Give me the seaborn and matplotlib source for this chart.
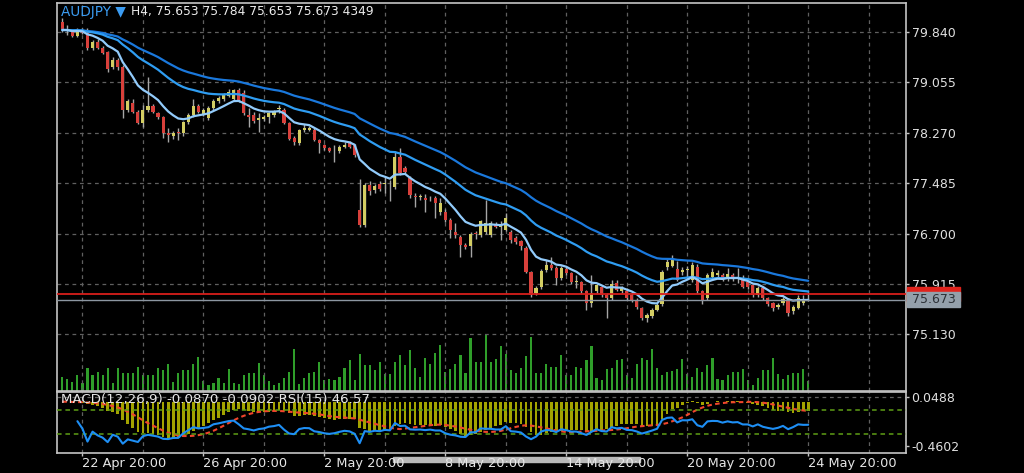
import numpy as np
import pandas as pd
import seaborn as sns
import matplotlib.pyplot as plt
from matplotlib.patches import Rectangle

# AUDJPY H4 candles (oldest first)
opens = [80.00, 79.87, 79.86, 79.78, 79.86, 79.82, 79.59, 79.69, 79.59, 79.52,
         79.30, 79.40, 79.30, 78.63, 78.74, 78.60, 78.42, 78.63, 78.68, 78.58,
         78.51, 78.27, 78.22, 78.28, 78.27, 78.43, 78.55, 78.68, 78.56, 78.50,
         78.65, 78.77, 78.79, 78.84, 78.80, 78.93, 78.89, 78.55, 78.55, 78.47,
         78.48, 78.52, 78.55, 78.64, 78.63, 78.42, 78.19, 78.11, 78.31, 78.31,
         78.32, 78.16, 78.08, 78.03, 78.01, 77.99, 78.05, 78.11, 78.08, 77.06,
         76.83, 77.46, 77.38, 77.47, 77.47, 77.42, 77.43, 77.90, 77.72, 77.56,
         77.28, 77.27, 77.26, 77.25, 77.25, 77.04, 77.04, 76.91, 76.73, 76.65,
         76.53, 76.50, 76.71, 76.68, 76.73, 76.68, 76.85, 76.81, 76.76, 76.73,
         76.63, 76.58, 76.47, 76.10, 75.77, 75.87, 76.13, 76.21, 76.16, 76.01,
         76.15, 76.08, 75.95, 75.95, 75.80, 75.62, 75.80, 75.87, 75.75, 75.70,
         75.93, 75.80, 75.81, 75.74, 75.67, 75.54, 75.39, 75.41, 75.51, 75.60,
         76.18, 76.20, 76.15, 76.10, 76.13, 75.98, 76.18, 75.80, 75.69, 76.03,
         76.05, 76.06, 76.01, 76.06, 76.02, 76.00, 75.94, 75.90, 75.74, 75.85,
         75.69, 75.62, 75.55, 75.62, 75.67, 75.49, 75.54, 75.62, 75.653]
highs = [80.05, 79.95, 79.89, 79.90, 79.90, 79.90, 79.72, 79.73, 79.62, 79.54,
         79.45, 79.43, 79.32, 78.80, 78.80, 78.62, 78.70, 79.14, 78.71, 78.60,
         78.53, 78.35, 78.30, 78.35, 78.45, 78.58, 78.79, 78.71, 78.66, 78.68,
         78.79, 78.84, 78.89, 78.95, 78.95, 78.96, 78.93, 78.65, 78.60, 78.58,
         78.55, 78.60, 78.63, 78.70, 78.66, 78.44, 78.22, 78.33, 78.40, 78.37,
         78.35, 78.18, 78.10, 78.05, 78.08, 78.08, 78.12, 78.14, 78.10, 77.55,
         77.49, 77.52, 77.48, 77.52, 77.59, 77.54, 77.99, 78.03, 77.75, 77.60,
         77.33, 77.32, 77.32, 77.29, 77.28, 77.26, 77.08, 76.94, 76.86, 76.68,
         76.55, 76.72, 76.74, 76.91, 77.22, 76.90, 76.88, 76.89, 77.02, 76.76,
         76.66, 76.60, 76.50, 76.12, 75.88, 76.15, 76.29, 76.34, 76.19, 76.19,
         76.18, 76.10, 76.06, 75.97, 75.82, 76.06, 75.92, 75.90, 75.77, 75.98,
         75.98, 75.88, 75.86, 75.77, 75.69, 75.56, 75.47, 75.54, 75.62, 76.14,
         76.30, 76.37, 76.28, 76.18, 76.19, 76.26, 76.22, 75.82, 76.09, 76.16,
         76.13, 76.08, 76.16, 76.09, 76.16, 76.06, 75.96, 75.92, 75.88, 75.88,
         75.72, 75.64, 75.62, 75.71, 75.70, 75.59, 75.75, 75.75, 75.784]
lows = [79.84, 79.79, 79.76, 79.76, 79.80, 79.56, 79.56, 79.57, 79.49, 79.22,
        79.26, 79.25, 78.50, 78.60, 78.57, 78.40, 78.36, 78.60, 78.57, 78.48,
        78.19, 78.12, 78.18, 78.16, 78.22, 78.40, 78.52, 78.57, 78.53, 78.47,
        78.62, 78.74, 78.76, 78.82, 78.77, 78.75, 78.55, 78.36, 78.42, 78.28,
        78.45, 78.42, 78.52, 78.57, 78.40, 78.15, 78.08, 78.08, 78.28, 78.29,
        78.14, 77.95, 78.00, 77.97, 77.82, 77.96, 78.03, 78.03, 77.90, 76.80,
        76.80, 77.30, 77.34, 77.36, 77.33, 77.20, 77.40, 77.61, 77.63, 77.25,
        77.12, 77.22, 77.04, 77.20, 76.94, 76.99, 76.88, 76.63, 76.63, 76.34,
        76.46, 76.34, 76.62, 76.65, 76.70, 76.65, 76.78, 76.60, 76.74, 76.55,
        76.54, 76.45, 76.08, 75.72, 75.74, 75.84, 76.10, 76.14, 75.90, 75.98,
        76.05, 75.92, 75.85, 75.78, 75.51, 75.56, 75.77, 75.72, 75.39, 75.66,
        75.80, 75.78, 75.67, 75.64, 75.53, 75.36, 75.32, 75.39, 75.49, 75.57,
        76.14, 76.18, 75.96, 76.06, 76.00, 75.95, 75.78, 75.60, 75.66, 75.99,
        76.02, 75.96, 75.96, 75.97, 75.93, 75.85, 75.84, 75.72, 75.71, 75.66,
        75.58, 75.49, 75.52, 75.59, 75.41, 75.45, 75.52, 75.59, 75.653]
closes = [79.87, 79.86, 79.78, 79.87, 79.82, 79.59, 79.69, 79.59, 79.51, 79.27,
          79.40, 79.30, 78.63, 78.76, 78.60, 78.42, 78.63, 78.68, 78.60, 78.51,
          78.26, 78.23, 78.27, 78.27, 78.43, 78.55, 78.68, 78.60, 78.62, 78.65,
          78.77, 78.81, 78.86, 78.91, 78.93, 78.78, 78.57, 78.52, 78.45, 78.50,
          78.52, 78.58, 78.60, 78.64, 78.42, 78.18, 78.13, 78.31, 78.35, 78.34,
          78.16, 78.11, 78.03, 77.99, 78.01, 78.05, 78.08, 78.05, 77.92, 76.83,
          77.46, 77.37, 77.44, 77.39, 77.47, 77.42, 77.90, 77.64, 77.66, 77.30,
          77.27, 77.28, 77.22, 77.25, 77.17, 77.17, 76.91, 76.76, 76.68, 76.52,
          76.49, 76.70, 76.70, 76.89, 76.86, 76.86, 76.81, 76.81, 76.95, 76.60,
          76.57, 76.50, 76.11, 75.74, 75.86, 76.12, 76.21, 76.17, 76.01, 76.16,
          76.08, 75.95, 75.95, 75.80, 75.62, 75.77, 75.90, 75.74, 75.69, 75.92,
          75.82, 75.85, 75.69, 75.67, 75.56, 75.38, 75.44, 75.51, 75.59, 76.10,
          76.26, 76.29, 75.98, 76.14, 76.13, 76.21, 75.80, 75.67, 76.06, 76.10,
          76.09, 75.98, 76.07, 76.00, 76.02, 75.87, 75.87, 75.74, 75.85, 75.69,
          75.61, 75.54, 75.59, 75.68, 75.46, 75.56, 75.70, 75.67, 75.673]
volumes = [6090, 5075, 4060, 6815, 3625, 9860, 6815, 8265, 6815, 9860,
           3625, 9860, 7975, 7685, 7685, 10585, 6815, 6815, 6815, 9860,
           8990, 11890, 4060, 7975, 8990, 8990, 11600, 14935, 4350, 2465,
           3625, 5800, 3625, 9425, 3625, 2900, 6815, 7685, 7975, 12035,
           6815, 4350, 2465, 3625, 5510, 8410, 18415, 3190, 5800, 7685,
           8265, 12760, 4640, 5075, 4640, 6235, 10150, 13340, 4640, 15950,
           11310, 11310, 9135, 12615, 7540, 7540, 12760, 15515, 11310, 17690,
           10150, 6090, 14500, 11600, 16385, 19865, 8410, 9425, 11600, 15660,
           7975, 23200, 12760, 12760, 24215, 12760, 14065, 19575, 16240, 8990,
           7975, 10150, 15225, 23635, 7975, 7685, 11600, 10585, 10585, 15515,
           6960, 6815, 10585, 9860, 13340, 19575, 5510, 4640, 9425, 9860,
           13340, 14065, 6815, 5510, 11600, 14500, 13485, 18415, 10150, 6815,
           8410, 8700, 9425, 14065, 7540, 6235, 9860, 8410, 11165, 14500,
           5075, 4640, 6815, 8410, 8410, 9715, 4640, 2610, 5800, 8990,
           8990, 14500, 7250, 5075, 6815, 7685, 7685, 9715, 4349]

time_labels = ["22 Apr 20:00", "26 Apr 20:00", "2 May 20:00", "8 May 20:00",
               "14 May 20:00", "20 May 20:00", "24 May 20:00"]
label_bars = [4, 28, 52, 76, 100, 124, 148]
price_ticks = [79.840, 79.055, 78.270, 77.485, 76.700, 75.915, 75.130]
macd_ticks = [0.0488, -0.4602]
macd_text = "MACD(12,26,9) -0.0870 -0.0902 RSI(15) 46.57"
bid = 75.673
ask = 75.756

df = pd.DataFrame({"open": opens, "high": highs, "low": lows,
                   "close": closes, "volume": volumes})
df["bar"] = np.arange(len(df))

# indicators, same definitions the terminal uses
c = df["close"]
df["ma_fast"] = c.ewm(span=10, adjust=False).mean()
df["ma_mid"] = c.ewm(span=30, adjust=False).mean()
df["ma_slow"] = c.ewm(span=50, adjust=False).mean()
df["macd"] = c.ewm(span=12, adjust=False).mean() - c.ewm(span=26, adjust=False).mean()
df["signal"] = df["macd"].rolling(9, min_periods=1).mean()
d = c.diff()
up_avg = d.clip(lower=0).ewm(alpha=1 / 15, min_periods=3).mean()
dn_avg = (-d).clip(lower=0).ewm(alpha=1 / 15, min_periods=3).mean()
df["rsi"] = 100 - 100 / (1 + up_avg / dn_avg)

sns.set_theme(style="dark", rc={"axes.facecolor": "black", "figure.facecolor": "black",
                                "savefig.facecolor": "black", "axes.edgecolor": "#c4c4c4",
                                "text.color": "#e6e6e6", "xtick.color": "#c4c4c4",
                                "ytick.color": "#c4c4c4"})
plt.rcParams["font.family"] = ["DejaVu Sans"]

W, H = 1024, 473
fig = plt.figure(figsize=(W / 100, H / 100), dpi=100)
L, R = 57, 906
ax = fig.add_axes([L / W, 1 - 391 / H, (R - L) / W, (391 - 3) / H])
axm = fig.add_axes([L / W, 1 - 452.7 / H, (R - L) / W, (452.7 - 392) / H], sharex=ax)

grid_kw = dict(color="#606060", linestyle=(0, (3, 3)), linewidth=0.9)

# volume underneath the candles
axv = ax.twinx()
axv.bar(df["bar"], df["volume"], width=0.42, color="#2f9e2a", linewidth=0, zorder=1)
axv.set_ylim(0, 435 * 388)
axv.set_yticks([])
for s in axv.spines.values():
    s.set_visible(False)
ax.set_zorder(axv.get_zorder() + 1)
ax.patch.set_visible(False)

# candles
bull = df["close"] >= df["open"]
body_lo = np.minimum(df["open"], df["close"])
body_h = np.maximum((df["close"] - df["open"]).abs(), 0.012)
ax.vlines(df["bar"], df["low"], df["high"], color="#a6a6a6", linewidth=1, zorder=2)
ax.bar(df["bar"][bull], body_h[bull], bottom=body_lo[bull], width=0.62,
       color="#d3cd63", linewidth=0, zorder=3)
ax.bar(df["bar"][~bull], body_h[~bull], bottom=body_lo[~bull], width=0.62,
       color="#d8403b", linewidth=0, zorder=3)

sns.lineplot(x=df["bar"], y=df["ma_slow"], ax=ax, color="#1a78dc", linewidth=1.6, zorder=4)
sns.lineplot(x=df["bar"], y=df["ma_mid"], ax=ax, color="#2f9df2", linewidth=1.6, zorder=4)
sns.lineplot(x=df["bar"], y=df["ma_fast"], ax=ax, color="#92cbfb", linewidth=1.6, zorder=4)

ax.axhline(bid, color="#8c96a1", linewidth=1, zorder=5)
ax.axhline(ask, color="#d81f1b", linewidth=1.3, zorder=5)

ax.set_xlim(-1.05, 167.4)
ax.set_ylim(74.25, 80.29)
ax.yaxis.tick_right()
ax.set_yticks(price_ticks)
ax.set_yticklabels([f"{v:.3f}" for v in price_ticks])
ax.tick_params(axis="y", right=True, length=2.5, width=1, pad=1.5, labelsize=9,
               labelcolor="#e0e0e0")
ax.tick_params(axis="x", which="both", length=0, labelbottom=False)
ax.set_xlabel("")
ax.set_ylabel("")
ax.grid(True, which="both", **grid_kw)

# ask / bid price boxes on the right edge (ask box mostly hidden under bid box)
ytr = ax.get_yaxis_transform()
box_w = 53 / (R - L)
ax.add_patch(Rectangle((1.0015, ask - 0.109), box_w, 0.218, transform=ytr,
                       color="#e0231c", clip_on=False, zorder=6))
ax.add_patch(Rectangle((1.0015, bid - 0.117), box_w, 0.234, transform=ytr,
                       color="#94a0ab", clip_on=False, zorder=7))
ax.text(1.0015 + box_w / 2, bid, f"{bid:.3f}", transform=ytr, fontsize=9,
        color="#2c3137", va="center", ha="center", zorder=8)

# MACD histogram + signal, RSI on its own 0-100 scale
axm.bar(df["bar"], df["macd"], width=0.55, color="#a3a300", linewidth=0, zorder=2)
sns.lineplot(x=df["bar"], y=df["signal"], ax=axm, color="#f0452c", linewidth=1.5,
             linestyle=(0, (2.2, 1.6)), zorder=4)
axm.set_ylim(-0.5298, 0.1008)
axm.axhline(macd_ticks[0], **grid_kw)
axm.set_xticks(label_bars)
axm.set_xticklabels(time_labels, ha="left")
axm.set_xticks([b + 12 for b in label_bars], minor=True)
axm.tick_params(axis="x", which="major", bottom=True, length=2.5, width=1, pad=0.5,
                labelsize=9.3, labelcolor="#e6e6e6")
axm.tick_params(axis="x", which="minor", length=0)
axm.set_xlabel("")
axm.set_ylabel("")
axm.grid(True, which="both", axis="x", **grid_kw)

axr = axm.twinx()
axr.axhline(70, color="#5f9e16", linewidth=1.1, linestyle=(0, (3, 2.5)), zorder=2)
axr.axhline(30, color="#5f9e16", linewidth=1.1, linestyle=(0, (3, 2.5)), zorder=2)
sns.lineplot(x=df["bar"], y=df["rsi"], ax=axr, color="#1e8ff5", linewidth=1.5, zorder=3)
axr.set_ylim(0, 100)
axr.set_yticks([])
axr.set_ylabel("")
for s in axr.spines.values():
    s.set_visible(False)

# twinx moved the MACD ticks to the left, put them back on the right
axm.yaxis.tick_right()
axm.set_yticks(macd_ticks)
axm.set_yticklabels([f"{v:.4f}" for v in macd_ticks])
axm.tick_params(axis="y", right=True, left=False, labelright=True, labelleft=False,
                length=2.5, width=1, pad=1.5, labelsize=9, labelcolor="#e0e0e0")

for a in (ax, axm):
    for s in a.spines.values():
        s.set_color("#c4c4c4")
        s.set_linewidth(1.2)

# header texts
fig.text(61 / W, 1 - 12 / H, "AUDJPY \u25bc", color="#3b9cf2", fontsize=9.8,
         va="center", ha="left")
last = df.iloc[-1]
fig.text(131 / W, 1 - 12 / H,
         f"H4, {last['open']:.3f} {last['high']:.3f} {last['low']:.3f} "
         f"{last['close']:.3f} {int(last['volume'])}",
         color="#ececec", fontsize=8.8, va="center", ha="left")
fig.text(61 / W, 1 - 399 / H, macd_text, color="#e6e6e6", fontsize=9.6,
         va="center", ha="left", zorder=10)

# scroll indicator below the time axis
fig.patches.append(Rectangle((393 / W, 1 - 462 / H), (640 - 393) / W, 5 / H,
                             transform=fig.transFigure, color="#b8b8b8", zorder=-1))

fig.savefig("out.png", dpi=100, facecolor="black")
